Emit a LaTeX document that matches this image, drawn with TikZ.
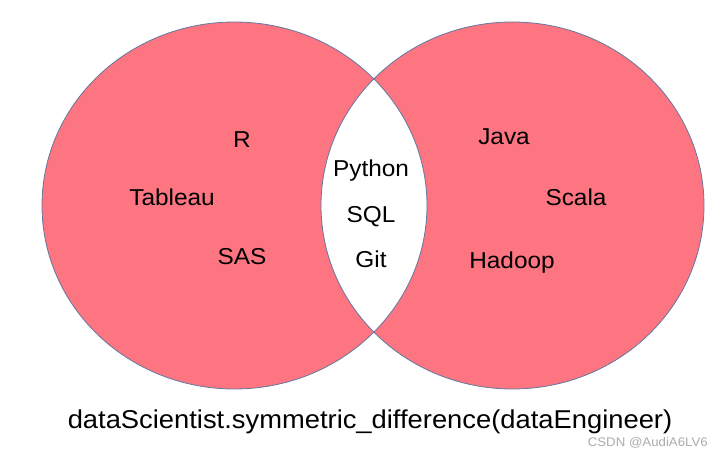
\documentclass[tikz,border=0pt]{standalone}
\usepackage{fontspec}
\setmainfont{Liberation Sans}
\newcommand{\wider}[1]{\scalebox{1.06}[1]{#1}}
\begin{document}
\begin{tikzpicture}[x=1pt,y=-1pt,
  setline/.style={draw=vennline,line width=0.8pt},
  lbl/.style={anchor=base,inner sep=0pt,font=\fontsize{23}{27}\selectfont,text=black},
  captext/.style={anchor=base,inner sep=0pt,font=\fontsize{25.8}{30}\selectfont,text=black},
  wm/.style={anchor=base east,inner sep=0pt,font=\fontsize{12.5}{14}\selectfont,text=gray!65}]
\definecolor{vennred}{RGB}{252,117,129}
\definecolor{vennline}{RGB}{100,120,160}
\useasboundingbox (0,0) rectangle (723,454);
\fill[white] (0,0) rectangle (723,454);
\fill[vennred,even odd rule] (234.5,205.5) ellipse [x radius=192.5,y radius=183.5]
  (512.5,205.5) ellipse [x radius=191.5,y radius=183.5];
\draw[setline] (234.5,205.5) ellipse [x radius=192.5,y radius=183.5];
\draw[setline] (512.5,205.5) ellipse [x radius=191.5,y radius=183.5];
\node[lbl] (r) at (242,148) {\wider{R}};
\node[lbl] (tableau) at (172,206) {\wider{Tableau}};
\node[lbl] (sas) at (242,265) {\wider{SAS}};
\node[lbl] (python) at (371,177) {\wider{Python}};
\node[lbl] (sql) at (371,223) {\wider{SQL}};
\node[lbl] (git) at (371,268) {\wider{Git}};
\node[lbl] (java) at (504,145) {\wider{Java}};
\node[lbl] (scala) at (576,206) {\wider{Scala}};
\node[lbl] (hadoop) at (512,269) {\wider{Hadoop}};
\node[captext] (title) at (370,428) {\wider{dataScientist.symmetric\_difference(dataEngineer)}};
\node[wm] (mark) at (708,446) {\wider{CSDN @AudiA6LV6}};
\end{tikzpicture}
\end{document}
